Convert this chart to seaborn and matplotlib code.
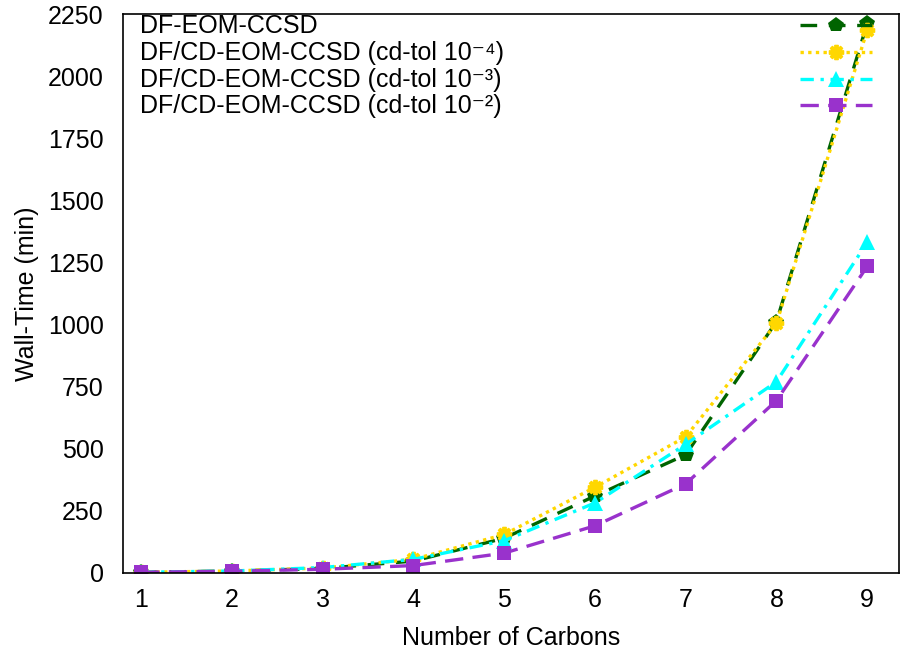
import matplotlib
matplotlib.use("Agg")
import matplotlib.pyplot as plt
import seaborn as sns
import pandas as pd

carbons = [1, 2, 3, 4, 5, 6, 7, 8, 9]
df_eom = [3, 8, 18, 48, 140, 310, 476, 1012, 2212]
cd_tol4 = [3, 8, 20, 55, 155, 345, 548, 1005, 2185]
cd_tol3 = [3, 8, 22, 55, 130, 282, 518, 770, 1331]
cd_tol2 = [3, 7, 15, 30, 80, 190, 359, 694, 1234]
labels = ["DF-EOM-CCSD",
          "DF/CD-EOM-CCSD (cd-tol 10\u207b\u2074)",
          "DF/CD-EOM-CCSD (cd-tol 10\u207b\u00b3)",
          "DF/CD-EOM-CCSD (cd-tol 10\u207b\u00b2)"]
yticks = [0, 250, 500, 750, 1000, 1250, 1500, 1750, 2000, 2250]

sns.set_style("white")
plt.rcParams["font.family"] = ["Liberation Sans", "DejaVu Sans"]
plt.rcParams["axes.unicode_minus"] = False
plt.rcParams["text.color"] = "black"
plt.rcParams["axes.labelcolor"] = "black"

fs = 18
fig = plt.figure(figsize=(9.04, 6.54), dpi=100)
ax = fig.add_axes([123/904, 1 - 573/654, (899-123)/904, (573-14)/654])

styles = [
    dict(color="#006400", marker="p", dashes=(5, 3.5), ms=11.5, mew=0),
    dict(color="#FFD700", marker=(8, 2, 0), dashes=(1, 1.3), ms=11, mew=2.8),
    dict(color="#00FFFF", marker="^", dashes=(4, 2, 1, 2), ms=11.5, mew=0),
    dict(color="#9932CC", marker="s", dashes=(5.5, 2.8), ms=9.5, mew=0),
]
series = [df_eom, cd_tol4, cd_tol3, cd_tol2]
for vals, st in zip(series, styles):
    d = pd.DataFrame({"x": carbons, "y": vals})
    sns.lineplot(data=d, x="x", y="y", ax=ax, color=st["color"], lw=2.4,
                 marker=st["marker"], markersize=st["ms"], markeredgewidth=st["mew"],
                 markeredgecolor=st["color"], legend=False)
    ax.lines[-1].set_dashes(st["dashes"])

ax.set_xlim(0.8, 9.35)
ax.set_ylim(0, 2250)
ax.set_xticks(carbons)
ax.set_yticks(yticks)
ax.tick_params(axis="both", direction="in", length=7, width=1, labelsize=fs,
               colors="black")
ax.tick_params(axis="y", pad=14)
ax.tick_params(axis="x", pad=11)
for s in ax.spines.values():
    s.set_color("black")
    s.set_linewidth(1.2)
ax.set_xlabel("Number of Carbons", fontsize=fs, labelpad=10)
ax.set_ylabel("Wall-Time (min)", fontsize=fs, labelpad=6)

# gnuplot-style key: text on the left, samples on the right
H = 559.0
baselines_px = [33, 60, 87, 113]
for lab, st, bp in zip(labels, styles, baselines_px):
    yb = (573 - bp) / H
    ax.text(0.022, yb, lab, transform=ax.transAxes, fontsize=fs,
            va="baseline", ha="left", color="black",
            family=["Liberation Sans", "DejaVu Sans"])
    yl = (573 - (bp - 8)) / H
    ax.plot([0.872, 0.9185, 0.965], [yl, yl, yl], transform=ax.transAxes,
            color=st["color"], lw=2.4, dashes=st["dashes"], marker=st["marker"],
            markersize=st["ms"], markeredgewidth=st["mew"],
            markeredgecolor=st["color"], markevery=[1], clip_on=False)

fig.savefig("out.png", dpi=100)
